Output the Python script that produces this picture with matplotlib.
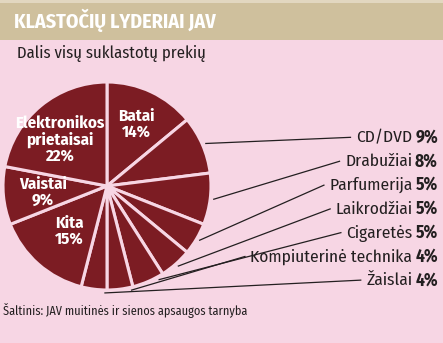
import matplotlib
matplotlib.use('Agg')
import matplotlib.pyplot as plt
from matplotlib import font_manager
import numpy as np

# Shares of all counterfeit goods seized, clockwise from the top
categories = ['Batai', 'CD/DVD', 'Drabužiai', 'Parfumerija', 'Laikrodžiai',
              'Cigaretės', 'Kompiuterinė technika', 'Žaislai', 'Kita',
              'Vaistai', 'Elektronikos\nprietaisai']
shares = [14, 9, 8, 5, 5, 5, 4, 4, 15, 9, 22]
inside = ['Batai', 'Kita', 'Vaistai', 'Elektronikos\nprietaisai']

title = 'KLASTOČIŲ LYDERIAI JAV'
subtitle = 'Dalis visų suklastotų prekių'
source = 'Šaltinis: JAV muitinės ir sienos apsaugos tarnyba'

W, H = 443, 343
BG = '#f7d6e4'
BAR = '#cfc09d'
WINE = '#7c1c23'
INK = '#231f20'

names = {f.name for f in font_manager.fontManager.ttflist}
narrow = next((n for n in ['Fira Sans Condensed', 'Roboto Condensed',
                           'PT Sans Narrow', 'Encode Sans Condensed']
               if n in names), 'DejaVu Sans')
plt.rcParams['font.family'] = [narrow, 'DejaVu Sans']

fig = plt.figure(figsize=(W / 100, H / 100), dpi=100, facecolor=BG)
ax = fig.add_axes([0, 0, 1, 1])

# pie, drawn in pixel units
cx, cy, r = 107, 157, 104
wedges, _ = ax.pie(shares, startangle=90, counterclock=False,
                   center=(cx, cy), radius=r, colors=[WINE] * len(shares),
                   wedgeprops=dict(edgecolor=BG, linewidth=2.2), frame=True)
ax.set_xlim(0, W)
ax.set_ylim(0, H)
ax.axis('off')

# header band
ax.add_patch(plt.Rectangle((0, H - 40), W, 40, color=BAR, lw=0))
ax.add_patch(plt.Rectangle((0, H - 3), W, 3, color='#e2d7c0', lw=0))
ax.text(14, 315, title, color='white', fontsize=14.4, fontweight='bold',
        va='baseline', ha='left')
ax.text(17, 285, subtitle, color=INK, fontsize=12, va='baseline', ha='left')
ax.text(3, 28, source, color=INK, fontsize=8.8, va='baseline', ha='left')

# labels inside the big slices: (radius fraction, x nudge)
inner_pos = {'Batai': (0.66, 0), 'Kita': (0.58, 2), 'Vaistai': (0.62, 0),
             'Elektronikos\nprietaisai': (0.58, -9)}
for w, cat, val in zip(wedges, categories, shares):
    if cat not in inside:
        continue
    mid = np.deg2rad((w.theta1 + w.theta2) / 2)
    f, dx = inner_pos[cat]
    ax.text(cx + f * r * np.cos(mid) + dx, cy + f * r * np.sin(mid),
            f'{cat}\n{val}%', color='white', fontsize=12.2, fontweight='bold',
            ha='center', va='center', linespacing=1.0)

# labels on the right with leader lines
outer = [(w, c, v) for w, c, v in zip(wedges, categories, shares) if c not in inside]
baselines = [200.7, 176.9, 153.1, 129.3, 105.5, 81.7, 57.9]
anchor_frac = [0.5, 0.5, 0.5, 0.5, 0.2, 0.1, 0.1]
right = 438

fig.canvas.draw()
renderer = fig.canvas.get_renderer()
for (w, cat, val), yb, fr in zip(outer, baselines, anchor_frac):
    pct = ax.text(right, yb, f'{val}%', color=INK, fontsize=12.5,
                  fontweight='bold', ha='right', va='baseline')
    pw = pct.get_window_extent(renderer).width
    lab = ax.text(right - pw - 3, yb, cat, color=INK, fontsize=12.5,
                  ha='right', va='baseline')
    left = lab.get_window_extent(renderer).x0
    # theta2 is the upper edge because the pie runs clockwise
    ang = np.deg2rad(w.theta2 - fr * (w.theta2 - w.theta1))
    x0 = cx + (r + 3) * np.cos(ang)
    y0 = cy + (r + 3) * np.sin(ang)
    ax.plot([x0, left - 5], [y0, yb + 5], color=INK, lw=0.9,
            solid_capstyle='butt')

fig.savefig('out.png', dpi=100, facecolor=BG)
